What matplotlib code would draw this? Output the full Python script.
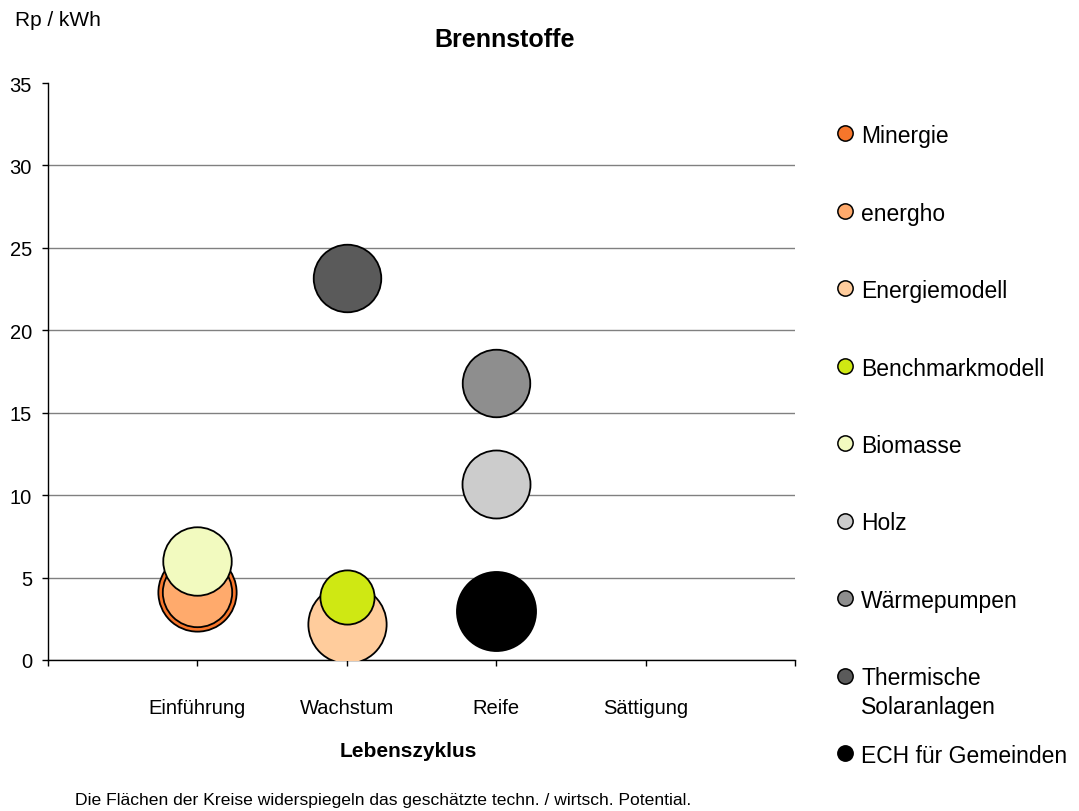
import matplotlib
matplotlib.use('Agg')
import matplotlib.pyplot as plt
from matplotlib.lines import Line2D

plt.rcParams['font.family'] = ['Liberation Sans', 'DejaVu Sans']

# data
stages = ['Einführung', 'Wachstum', 'Reife', 'Sättigung']
names = ['Minergie', 'energho', 'Energiemodell', 'Benchmarkmodell', 'Biomasse',
         'Holz', 'Wärmepumpen', 'Thermische\nSolaranlagen', 'ECH für Gemeinden']
stage_pos = [1, 1, 2, 2, 1, 3, 3, 2, 3]
cost = [4.1, 4.1, 2.2, 3.8, 6.0, 10.7, 16.8, 23.2, 3.0]        # Rp / kWh
potential = [98, 77, 98, 47, 75, 74, 73, 73, 100]               # relative area
colors = ['#F7762B', '#FFAA6C', '#FFCC9C', '#CFE813', '#F2FABF',
          '#CCCCCC', '#8E8E8E', '#5A5A5A', '#000000']

fig = plt.figure(figsize=(10.79, 8.12), dpi=100)
ax = fig.add_axes([48 / 1079, 1 - 661 / 812, (795 - 48) / 1079, (661 - 84) / 812])

size_scale = 32.4
for x, y, p, c in zip(stage_pos, cost, potential, colors):
    ax.scatter(x, y, s=p * size_scale, color=c, edgecolors='black',
               linewidths=1.3, zorder=3)

ax.set_xlim(0, 5)
ax.set_ylim(0, 35)
ax.set_xticks(range(6))
ax.set_xticklabels([''] + stages + [''])
ax.set_yticks(range(0, 36, 5))
ax.tick_params(axis='x', direction='out', length=4, width=1, labelsize=14.5, pad=23)
ax.tick_params(axis='y', direction='out', length=4.5, width=1, labelsize=14.5, pad=7)

ax.yaxis.grid(True, color='#808080', linewidth=1)
ax.set_axisbelow(True)
ax.yaxis.get_gridlines()[-1].set_visible(False)
for s in ['top', 'right']:
    ax.spines[s].set_visible(False)
for s in ['left', 'bottom']:
    ax.spines[s].set_linewidth(1)

fig.text(505 / 1079, 1 - 40 / 812, 'Brennstoffe', ha='center', va='center',
         fontsize=18, fontweight='bold')
fig.text(15 / 1079, 1 - 20 / 812, 'Rp / kWh', ha='left', va='center', fontsize=15)
fig.text(408 / 1079, 1 - 752 / 812, 'Lebenszyklus', ha='center', va='center',
         fontsize=15, fontweight='bold')
fig.text(75 / 1079, 1 - 801 / 812,
         'Die Flächen der Kreise widerspiegeln das geschätzte techn. / wirtsch. Potential.',
         ha='left', va='center', fontsize=12.6)

# legend, one entry every 77.5 px, marker level with the first text line
y_px = 134
for name, c in zip(names, colors):
    fy = 1 - y_px / 812
    fig.add_artist(Line2D([845 / 1079], [fy], marker='o', markersize=11,
                          markerfacecolor=c, markeredgecolor='black',
                          markeredgewidth=1.1, linestyle='none'))
    fig.text(861 / 1079, 1 - (y_px - 9) / 812, name, ha='left', va='top',
             fontsize=16.5, linespacing=1.3)
    y_px += 77.5

fig.savefig('out.png', dpi=100)
